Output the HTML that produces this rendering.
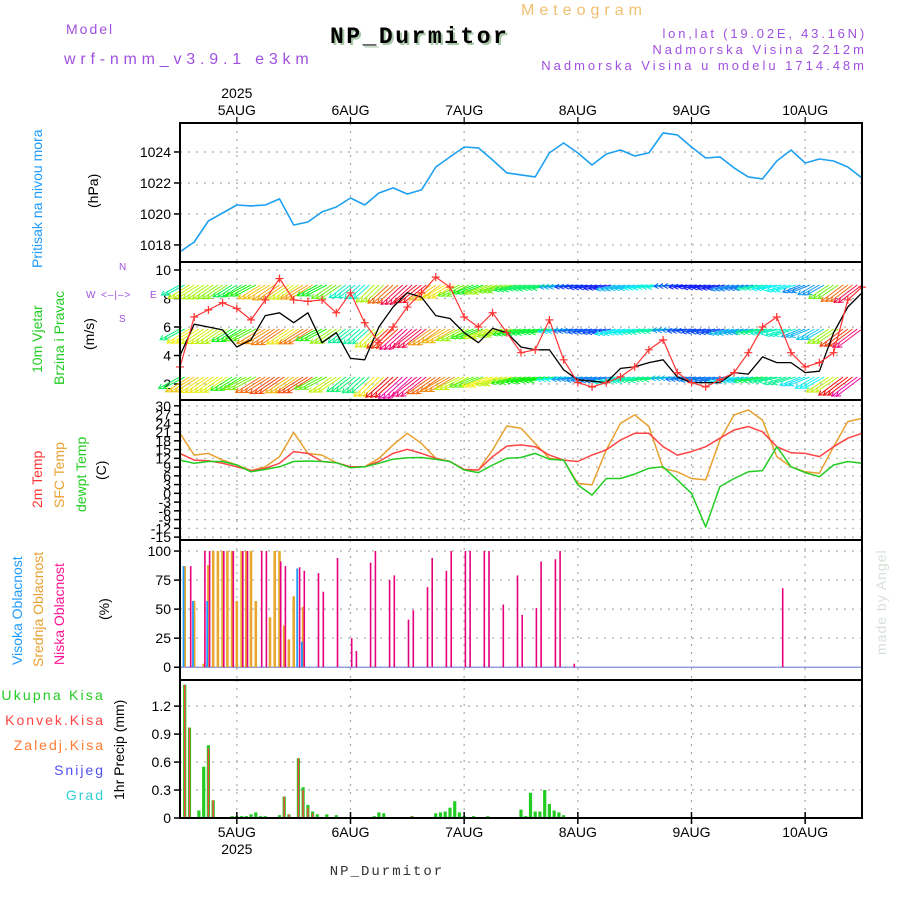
<!DOCTYPE html>
<html><head><meta charset="utf-8">
<style>
html,body{margin:0;padding:0;background:#fff;}
svg{display:block;font-family:"Liberation Sans",sans-serif;}
</style></head>
<body>
<svg id="chart" width="900" height="900" viewBox="0 0 900 900" xmlns="http://www.w3.org/2000/svg">
<rect x="0" y="0" width="900" height="900" fill="#fff"/>
<text x="66" y="34" font-size="14" fill="#a050e0" letter-spacing="2">Model</text>
<text x="64" y="64" font-size="16" fill="#a050e0" letter-spacing="4.8">wrf-nmm_v3.9.1 e3km</text>
<text x="332" y="45" font-size="23" font-weight="bold" fill="#a8c8a8" letter-spacing="2.5" font-family="Liberation Mono, monospace">NP_Durmitor</text>
<text x="330" y="43" font-size="23" font-weight="bold" fill="#000" letter-spacing="2.5" font-family="Liberation Mono, monospace">NP_Durmitor</text>
<text x="521" y="15" font-size="16" fill="#f0c070" letter-spacing="5">Meteogram</text>
<text x="867" y="38" font-size="13" fill="#a050e0" text-anchor="end" letter-spacing="2.8">lon,lat (19.02E, 43.16N)</text>
<text x="867" y="54" font-size="13" fill="#a050e0" text-anchor="end" letter-spacing="3">Nadmorska Visina 2212m</text>
<text x="867" y="70" font-size="13" fill="#a050e0" text-anchor="end" letter-spacing="3">Nadmorska Visina u modelu 1714.48m</text>
<text x="387" y="875" font-size="14" fill="#333" text-anchor="middle" letter-spacing="2" font-family="Liberation Mono, monospace">NP_Durmitor</text>
<text transform="translate(886,655) rotate(-90)" font-size="14" fill="#d8e0d8" letter-spacing="1">made by Angel</text>

<g font-size="14">
<text transform="translate(42,268) rotate(-90)" fill="#1e9bff">Pritisak na nivou mora</text>
<text transform="translate(98,208) rotate(-90)" fill="#000">(hPa)</text>
<text transform="translate(42,373) rotate(-90)" fill="#22cc22">10m Vjetar</text>
<text transform="translate(64,385) rotate(-90)" fill="#22cc22">Brzina i Pravac</text>
<text transform="translate(94,350) rotate(-90)" fill="#000">(m/s)</text>
<text x="86" y="298" font-size="10" fill="#a050e0">W</text>
<text x="101" y="298" font-size="10" fill="#a050e0" letter-spacing="1">&lt;–|–&gt;</text>
<text x="150" y="298" font-size="10" fill="#a050e0">E</text>
<text x="119" y="270" font-size="10" fill="#a050e0">N</text>
<text x="119" y="322" font-size="10" fill="#a050e0">S</text>
<text transform="translate(42,508) rotate(-90)" fill="#ff3333">2m Temp</text>
<text transform="translate(64,508) rotate(-90)" fill="#e8a030">SFC Temp</text>
<text transform="translate(86,512) rotate(-90)" fill="#22cc22">dewpt Temp</text>
<text transform="translate(106,480) rotate(-90)" fill="#000">(C)</text>
<text transform="translate(22,665) rotate(-90)" fill="#1e9bff">Visoka Oblacnost</text>
<text transform="translate(43,667) rotate(-90)" fill="#e8a030">Srednja Oblacnost</text>
<text transform="translate(64,665) rotate(-90)" fill="#ff1493">Niska Oblacnost</text>
<text transform="translate(109,620) rotate(-90)" fill="#000">(%)</text>
<text x="105" y="700" text-anchor="end" fill="#22cc22" letter-spacing="2.2">Ukupna Kisa</text>
<text x="105" y="725" text-anchor="end" fill="#ff4444" letter-spacing="2">Konvek.Kisa</text>
<text x="105" y="750" text-anchor="end" fill="#ff7a30" letter-spacing="2">Zaledj.Kisa</text>
<text x="105" y="775" text-anchor="end" fill="#5050ee" letter-spacing="2">Snijeg</text>
<text x="105" y="800" text-anchor="end" fill="#30d0d0" letter-spacing="2">Grad</text>
<text transform="translate(124,800) rotate(-90)" fill="#000">1hr Precip (mm)</text>
</g>
<g id="plot"></g>
</svg>
<script>
const pressure=[1017.55,1018.19,1019.55,1020.06,1020.58,1020.52,1020.58,1020.97,1019.29,1019.48,1020.13,1020.45,1021.03,1020.58,1021.35,1021.68,1021.29,1021.55,1023.03,1023.68,1024.32,1024.26,1023.48,1022.65,1022.52,1022.39,1023.94,1024.58,1023.94,1023.16,1023.87,1024.13,1023.74,1023.94,1025.23,1025.10,1024.32,1023.61,1023.68,1022.97,1022.39,1022.26,1023.42,1024.13,1023.29,1023.55,1023.42,1023.03,1022.32];
const windSpeed=[4.0,6.2,6.0,5.8,4.6,5.1,6.8,7.0,6.3,7.0,4.9,5.6,3.8,3.7,6.0,7.4,8.4,8.1,6.8,6.6,5.6,4.9,5.9,5.6,4.6,4.4,4.4,3.0,2.3,2.2,2.1,3.1,3.2,3.5,3.7,2.5,2.1,2.1,2.1,2.8,2.7,3.9,3.5,3.5,2.8,2.9,5.6,7.4,8.4];
const windGust=[3.2,6.7,7.2,7.7,7.3,6.5,7.9,9.4,7.9,7.8,7.9,7.0,8.4,6.3,4.9,6.0,7.4,8.4,9.5,8.8,6.7,6.0,7.0,5.6,4.2,4.4,6.5,3.7,2.1,1.8,2.1,2.5,3.2,4.4,5.1,2.8,2.1,1.8,2.3,2.8,4.2,6.0,6.7,4.2,3.2,3.5,4.2,7.9,8.8];
const windDir=[62,58,56,56,58,62,58,56,56,58,62,56,52,48,46,48,48,52,55,60,63,68,70,73,76,78,80,83,83,80,78,76,78,80,83,86,83,80,78,76,78,80,78,73,68,60,56,53,53];
const temp2m=[13.7,11.4,11.2,10.3,9.1,7.8,8.6,10.3,14.3,13.7,10.9,10.5,9.1,9.1,10.9,13.7,15.1,13.7,12.0,10.9,8.2,8.0,12.6,16.2,16.6,16.0,13.1,11.4,10.9,13.1,14.9,18.3,20.6,20.6,16.0,13.1,14.3,16.0,18.9,21.7,22.9,21.1,16.0,13.9,13.7,12.6,16.0,18.9,20.6];
const tempSfc=[20.6,13.1,13.7,11.4,9.7,7.8,9.1,12.6,20.9,13.7,13.1,10.5,9.1,9.1,12.0,16.6,20.6,17.1,12.0,10.9,8.0,8.0,14.9,23.1,22.3,17.1,12.0,11.4,3.4,2.9,14.9,24.0,26.9,22.9,8.6,7.4,5.1,4.6,18.3,26.9,28.6,25.1,12.6,9.1,7.4,6.9,16.0,24.6,25.7];
const tempDew=[11.4,10.3,10.9,10.9,9.7,7.4,8.2,9.1,10.9,11.1,10.9,10.5,8.8,9.1,10.3,11.7,12.2,12.3,11.7,10.9,8.0,7.1,9.7,12.0,12.3,13.7,11.7,11.4,2.9,-0.6,5.1,5.1,6.6,8.6,9.1,4.6,0.0,-11.5,2.3,5.1,7.4,7.8,16.0,9.1,7.1,5.7,9.7,10.9,10.3];
const cloudHighHours=[1,3,6,25,26];
const cloudHighValues=[87,57,57,85,22];
const cloudMidHours=[1,3,5,6,7,8,9,10,11,12,13,14,15,16,19,20,21,22,23,24,26];
const cloudMidValues=[87,57,3,88,100,100,100,100,100,57,100,100,100,57,43,100,100,36,24,61,52];
const cloudLowHours=[2,5,6,9,11,13,14,17,18,21,22,25,26,29,30,33,36,37,40,41,44,45,48,49,52,53,56,57,60,61,64,65,68,71,72,75,76,79,80,83,127];
const cloudLowValues=[87,100,100,100,100,100,100,100,100,91,87,86,83,81,65,94,25,14,90,100,75,79,41,49,69,94,83,100,100,100,100,100,54,79,45,51,91,93,100,3,68];
const precipHours=[1,2,4,5,6,7,11,12,13,14,15,16,17,18,21,22,23,25,26,27,28,29,31,33,41,42,43,49,54,55,56,57,58,59,60,62,65,72,73,74,75,76,77,78,79,80,81];
const precipTotal=[1.43,0.97,0.08,0.55,0.78,0.19,0.02,0.02,0.02,0.02,0.04,0.06,0.02,0.02,0.03,0.23,0.04,0.64,0.33,0.14,0.07,0.04,0.04,0.03,0.02,0.06,0.05,0.02,0.05,0.06,0.07,0.11,0.18,0.06,0.02,0.02,0.02,0.09,0.02,0.27,0.07,0.07,0.30,0.15,0.08,0.06,0.03];
const convHours=[1,2,6,7,22,23,25,26,27,28,49];
const convValues=[1.43,0.97,0.75,0.19,0.23,0.04,0.64,0.30,0.11,0.05,0.02];
const pressureTicks=[1018,1020,1022,1024];
const windTicks=[2,4,6,8,10];
const tempTicks=[30,27,24,21,18,15,12,9,6,3,0,-3,-6,-9,-12,-15];
const cloudTicks=[0,25,50,75,100];
const precipTicks=[0,0.3,0.6,0.9,1.2];
const dayLabels=['5AUG','6AUG','7AUG','8AUG','9AUG','10AUG'];
const STEP=3;

const NS='http://www.w3.org/2000/svg';
const plot=document.getElementById('plot');
const X0=180,X1=862,HOURS=144;
function xh(h){return X0+h*(X1-X0)/HOURS;}
function mk(tag,attrs,parent){const e=document.createElementNS(NS,tag);for(const k in attrs)e.setAttribute(k,attrs[k]);(parent||plot).appendChild(e);return e;}
function scale(p){return v=>p.bot-(v-p.min)/(p.max-p.min)*(p.bot-p.top);}
const panels={
 pressure:{top:123,bot:262,min:1016.9,max:1025.87},
 wind:{top:262,bot:400,min:0.88,max:10.56},
 temp:{top:400,bot:540,min:-16,max:32},
 cloud:{top:540,bot:680,min:-11,max:109.5},
 precip:{top:680,bot:818,min:0,max:1.48}
};
function gridAndAxis(name,p,ticks,fmt){
 const y=scale(p);
 const g=mk('g',{});
 
 
 ticks.forEach(t=>{
  const yy=y(t);
  const l=mk('line',{x1:X0,x2:X1,y1:yy,y2:yy,stroke:'#aaa','stroke-width':1.2,'stroke-dasharray':'2 6'},g);
  
  
  const tk=mk('line',{x1:X0-6,x2:X0,y1:yy,y2:yy,stroke:'#000','stroke-width':1.5},g);
  
  
  const tx=mk('text',{x:X0-9,y:yy+5,'font-size':14,'text-anchor':'end',fill:'#000'},g);
  tx.textContent=fmt?fmt(t):t;
  
  
 });
 dayLabels.forEach((d,i)=>{
  const xx=xh(12+24*i);
  const v=mk('line',{x1:xx,x2:xx,y1:p.top,y2:p.bot,stroke:'#aaa','stroke-width':1.2,'stroke-dasharray':'2 6'},g);
  
  
 });
 return y;
}
const yP=gridAndAxis('pressure',panels.pressure,pressureTicks);
const yW=gridAndAxis('wind',panels.wind,windTicks);
const yT=gridAndAxis('temp',panels.temp,tempTicks);
const yC=gridAndAxis('cloud',panels.cloud,cloudTicks);
const yR=gridAndAxis('precip',panels.precip,precipTicks,t=>t===0?'0':t.toFixed(1));

function line(arr,yf,color,w,name){
 const pts=arr.map((v,i)=>xh(i*STEP).toFixed(1)+','+yf(v).toFixed(1)).join(' ');
 const pl=mk('polyline',{points:pts,fill:'none',stroke:color,'stroke-width':w,'stroke-linejoin':'round'});
 
 
 return pl;
}
line(pressure,yP,'#1ea0f0',1.6,'pressure-line');

function hueFor(s){let h=260-(s-1.5)*40;if(h<0)h+=360;return 'hsl('+h+',90%,50%)';}
const rowBase=[285,329,377];
const arrowsG=mk('g',{});


rowBase.forEach((by,r)=>{
 windDir.forEach((d,i)=>{
  const s=windSpeed[i];
  const L=14+s*1.8+r*1.5;
  const rad=d*Math.PI/180;
  const dx=-Math.sin(rad)*L,dy=Math.cos(rad)*L;
  const col=hueFor(s+r*0.3);
  [-1,0,1].forEach(o=>{
   const hx=xh(i*STEP+o);
   if(hx<X0||hx>X1)return;
   const x2=hx+dx,y2=by+dy;
   const ang=Math.atan2(dy,dx);
   const a1=ang+2.6,a2=ang-2.6;
   const p=mk('path',{d:`M${hx.toFixed(1)},${by} L${x2.toFixed(1)},${y2.toFixed(1)} M${(x2+Math.cos(a1)*5).toFixed(1)},${(y2+Math.sin(a1)*5).toFixed(1)} L${x2.toFixed(1)},${y2.toFixed(1)} L${(x2+Math.cos(a2)*5).toFixed(1)},${(y2+Math.sin(a2)*5).toFixed(1)}`,stroke:col,'stroke-width':1,fill:'none'},arrowsG);
   
   
  });
 });
});
line(windSpeed,yW,'#000',1.3,'wind-speed-line');
line(windGust,yW,'#ff3333',1.2,'wind-gust-line');
windGust.forEach((v,i)=>{
 const cx=xh(i*STEP),cy=yW(v);
 const m=mk('path',{d:`M${cx-4},${cy} H${cx+4} M${cx},${cy-4} V${cy+4}`,stroke:'#ff3333','stroke-width':1.2});
 
 
});

line(tempSfc,yT,'#e8a030',1.5,'sfc-temp-line');
line(temp2m,yT,'#ff4444',1.5,'temp-2m-line');
line(tempDew,yT,'#22cc22',1.5,'dewpoint-line');

function bars(hours,vals,yf,color,w,off,name){
 hours.forEach((h,i)=>{
  const x=xh(h)+off;const y0=yf(0),y1=yf(vals[i]);
  const r=mk('rect',{x:(x-w/2).toFixed(1),y:y1.toFixed(1),width:w,height:Math.max(0,y0-y1).toFixed(1),fill:color});
  
  
 });
}
const base=mk('line',{x1:X0,x2:X1,y1:yC(0),y2:yC(0),stroke:'#7f8fd8','stroke-width':1.2});


bars(cloudMidHours,cloudMidValues,yC,'#e8a830',2.6,0,'cloud-mid-bar');
bars(cloudHighHours,cloudHighValues,yC,'#1e9bff',1.8,-1.2,'cloud-high-bar');
bars(cloudLowHours,cloudLowValues,yC,'#e6007e',1.6,1.2,'cloud-low-bar');
bars(precipHours,precipTotal,yR,'#22cc22',3.2,0,'precip-total-bar');
bars(convHours,convValues,yR,'#ff4444',1.4,0,'precip-convective-bar');

Object.keys(panels).forEach(k=>{
 const p=panels[k];
 const r=mk('rect',{x:X0,y:p.top,width:X1-X0,height:p.bot-p.top,fill:'none',stroke:'#000','stroke-width':2});
 
 
});
dayLabels.forEach((d,i)=>{
 const xx=xh(12+24*i);
 const t1=mk('line',{x1:xx,x2:xx,y1:117,y2:123,stroke:'#000','stroke-width':1.2});
 
 
 const t2=mk('line',{x1:xx,x2:xx,y1:812,y2:824,stroke:'#000','stroke-width':1.5});
 
 
 const a=mk('text',{x:xx,y:115,'font-size':14,'text-anchor':'middle',fill:'#000'});
 a.textContent=d;
 
 
 const b=mk('text',{x:xx,y:837,'font-size':14,'text-anchor':'middle',fill:'#000'});
 b.textContent=d;
 
 
});
const y1=mk('text',{x:xh(12),y:98,'font-size':14,'text-anchor':'middle',fill:'#000'});
y1.textContent='2025';


const y2=mk('text',{x:xh(12),y:854,'font-size':14,'text-anchor':'middle',fill:'#000'});
y2.textContent='2025';


</script>
</body></html>
